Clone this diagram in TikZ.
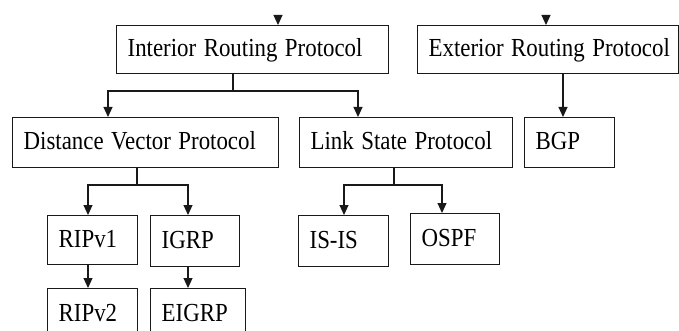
\documentclass[tikz,border=0pt]{standalone}
\usepackage{fontspec}
\setmainfont{Liberation Serif}[FakeStretch=0.88]
\usetikzlibrary{arrows.meta}

\tikzset{
  pbox/.style={draw=black!90, line width=1.3pt, rectangle, inner ysep=0pt,
    inner xsep=11pt, text height=17pt, text depth=3pt,
    anchor=north west, font=\fontsize{26}{30}\selectfont},
  link/.style={draw=black!90, line width=1.1pt},
  arr/.style={link, -{Triangle[length=10pt,width=9pt]}},
}

% place a box by its corners (x1,y1)-(x2,y2), text set flush left
\newcommand{\protobox}[6]{%
  \node[pbox, minimum width=#4pt-#2pt, minimum height=#5pt-#3pt] (#1) at (#2,#3)
    {\makebox[\dimexpr #4pt-#2pt-22pt\relax][l]{\spaceskip=7.5pt\relax #6}};}

\begin{document}
\begin{tikzpicture}[x=1pt,y=-1pt]
\clip (0,0) rectangle (679,331);

% boxes
\protobox{int}{116}{25}{388}{73}{Interior Routing Protocol}
\protobox{ext}{417}{25}{678}{73}{Exterior Routing Protocol}
\protobox{dv}{12}{117}{278}{167}{Distance Vector Protocol}
\protobox{ls}{299}{117}{512}{167}{Link State Protocol}
\protobox{bgp}{524}{117}{614}{167}{BGP}
\protobox{ripa}{47}{215}{137}{264}{RIPv1}
\protobox{igrp}{150}{215}{239}{266}{IGRP}
\protobox{isis}{298}{215}{388}{266}{IS-IS}
\protobox{ospf}{410}{213}{499}{264}{OSPF}
\protobox{ripb}{47}{288}{137}{340}{RIPv2}
\protobox{eigrp}{150}{288}{245}{340}{EIGRP}

% junction and entry points
\coordinate (inttop) at (278,15);
\coordinate (exttop) at (546,15);
\coordinate (intfork) at (233,91);
\coordinate (dvin) at (108,0);
\coordinate (lsin) at (358,0);
\coordinate (bgpin) at (563,0);
\coordinate (dvfork) at (137,185);
\coordinate (ripain) at (88,0);
\coordinate (igrpin) at (188,0);
\coordinate (lsfork) at (394,185);
\coordinate (isisin) at (344,0);
\coordinate (ospfin) at (442,0);

% connectors
\draw[arr] (inttop) -- (int.north -| inttop);
\draw[arr] (exttop) -- (ext.north -| exttop);

\draw[link] (int.south -| intfork) -- (intfork);
\draw[arr] (intfork) -| (dv.north -| dvin);
\draw[arr] (intfork) -| (ls.north -| lsin);

\draw[arr] (ext.south -| bgpin) -- (bgp.north -| bgpin);

\draw[link] (dv.south -| dvfork) -- (dvfork);
\draw[arr] (dvfork) -| (ripa.north -| ripain);
\draw[arr] (dvfork) -| (igrp.north -| igrpin);

\draw[link] (ls.south -| lsfork) -- (lsfork);
\draw[arr] (lsfork) -| (isis.north -| isisin);
\draw[arr] (lsfork) -| (ospf.north -| ospfin);

\draw[arr] (ripa.south -| ripain) -- (ripb.north -| ripain);
\draw[arr] (igrp.south -| igrpin) -- (eigrp.north -| igrpin);
\end{tikzpicture}
\end{document}
